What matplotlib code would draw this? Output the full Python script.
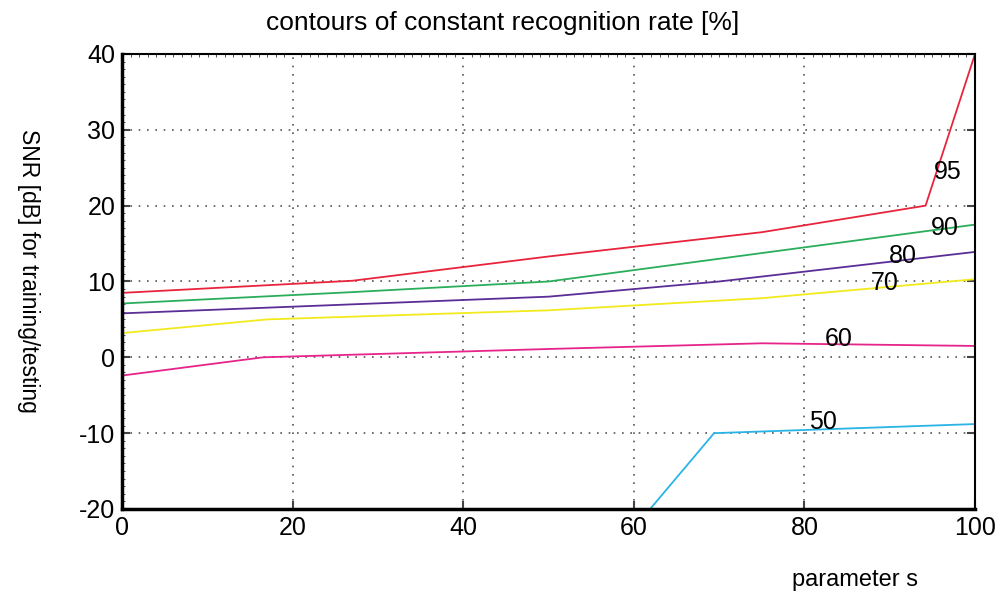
import numpy as np
import matplotlib.pyplot as plt
from matplotlib.ticker import MultipleLocator

plt.rcParams['font.family'] = ['Liberation Sans', 'DejaVu Sans']
plt.rcParams['axes.unicode_minus'] = False

# contour lines: parameter s vs SNR, one per recognition rate
s_95 = [0, 27, 50, 75, 94.2, 100]
snr_95 = [8.5, 10.1, 13.3, 16.5, 20.0, 40.0]
s_90 = [0, 27, 50, 100]
snr_90 = [7.1, 8.6, 10.0, 17.5]
s_80 = [0, 50, 70, 100]
snr_80 = [5.8, 8.0, 10.0, 13.9]
s_70 = [0, 17, 50, 75, 100]
snr_70 = [3.2, 5.0, 6.2, 7.8, 10.3]
s_60 = [0, 16.5, 50, 75, 100]
snr_60 = [-2.4, 0.0, 1.1, 1.85, 1.5]
s_50 = [61.9, 69.4, 100]
snr_50 = [-20.0, -10.0, -8.8]

levels = ['95', '90', '80', '70', '60', '50']
colors = ['#e8243c', '#2aae5c', '#5a2e96', '#f2ea1c', '#e6248a', '#2ab4e6']
label_pos = [(96.8, 24.4), (96.5, 17.0), (91.5, 13.4), (89.4, 9.8), (84.0, 2.4), (82.2, -8.5)]

fig = plt.figure(figsize=(10.06, 5.96), dpi=100)
ax = fig.add_axes([0.1216, 0.146, 0.8476, 0.7634])

curves = [(s_95, snr_95), (s_90, snr_90), (s_80, snr_80),
          (s_70, snr_70), (s_60, snr_60), (s_50, snr_50)]
for (s, snr), c in zip(curves, colors):
    ax.plot(s, snr, color=c, linewidth=1.3)

for lev, (lx, ly) in zip(levels, label_pos):
    ax.text(lx, ly, lev, fontsize=18, ha='center', va='center', color='black')

ax.set_xlim(0, 100)
ax.set_ylim(-20, 40)
ax.set_xticks(np.arange(0, 101, 20))
ax.set_yticks(np.arange(-20, 41, 10))
ax.xaxis.set_minor_locator(MultipleLocator(1))
ax.yaxis.set_minor_locator(MultipleLocator(1))
ax.grid(True, which='major', linestyle=(0, (1, 4)), color='#555555', linewidth=1.2)
ax.tick_params(which='major', direction='in', length=6, width=1.5, color='#444444',
               labelsize=18, top=False, right=True, pad=5)
ax.tick_params(which='minor', direction='in', length=2, width=0.6, color='#333333',
               top=True, right=False, bottom=False, left=True)

ax.spines['left'].set_linewidth(2.5)
ax.spines['bottom'].set_linewidth(2.5)
ax.spines['top'].set_linewidth(1.5)
ax.spines['right'].set_linewidth(1.5)

fig.text(0.5, 0.962, 'contours of constant recognition rate [%]', fontsize=19,
         ha='center', va='center')
fig.text(0.85, 0.027, 'parameter s', fontsize=17, ha='center', va='center')
fig.text(0.028, 0.545, 'SNR [dB] for training/testing', fontsize=16.5,
         ha='center', va='center', rotation=-90)

fig.savefig('out.png', dpi=100)
